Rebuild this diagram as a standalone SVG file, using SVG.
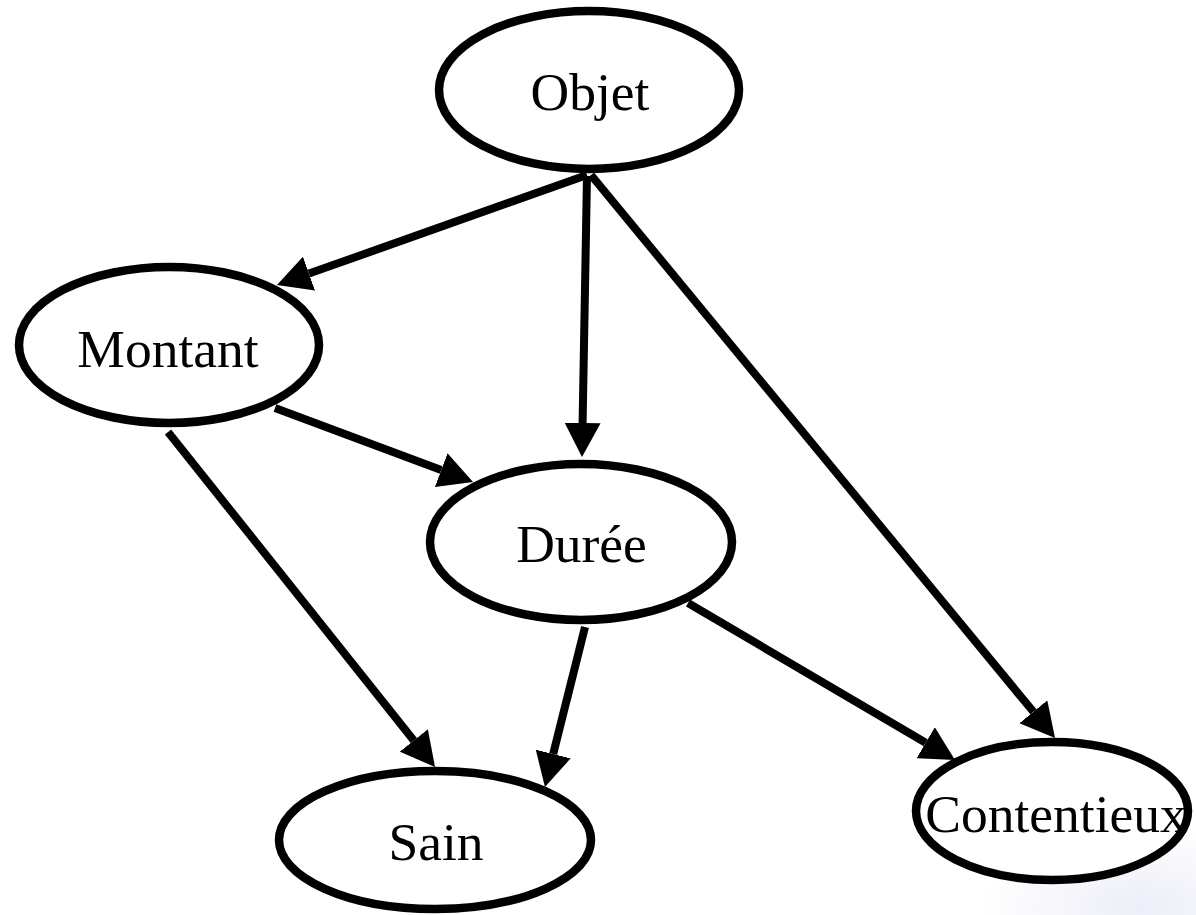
<svg xmlns="http://www.w3.org/2000/svg" width="1196" height="915" viewBox="0 0 1196 915">
  <style>
    .node ellipse { fill: #ffffff; stroke: #000000; stroke-width: 8.5; }
    .node text { font-family: "Liberation Serif", "Times New Roman", serif; font-size: 53.5px; fill: #000000; text-anchor: middle; }
    .edge { stroke: #000000; stroke-width: 8; fill: none; marker-end: url(#arrow); }
  </style>
  <defs>
    <marker id="arrow" viewBox="0 0 34 36" refX="0" refY="18" markerWidth="34" markerHeight="36" markerUnits="userSpaceOnUse" orient="auto">
      <path d="M0,0 L34,18 L0,36 Z" fill="#000000"/>
    </marker>
    <radialGradient id="haze" cx="0.5" cy="0.5" r="0.5">
      <stop offset="0" stop-color="#e6e6f6" stop-opacity="0.7"/>
      <stop offset="1" stop-color="#e6e6f6" stop-opacity="0"/>
    </radialGradient>
  </defs>
  <rect width="1196" height="915" fill="#ffffff"/>
  <!-- faint tint in the lower corner -->
  <ellipse cx="1140" cy="905" rx="160" ry="80" fill="url(#haze)"/>

  <g id="edges">
    <line class="edge" x1="587" y1="175" x2="309" y2="273.6"/>
    <line class="edge" x1="587" y1="176" x2="582.6" y2="423"/>
    <line class="edge" x1="591" y1="175" x2="1033.4" y2="711.8"/>
    <line class="edge" x1="275" y1="408" x2="441.2" y2="470.1"/>
    <line class="edge" x1="168" y1="432" x2="413.8" y2="740.4"/>
    <line class="edge" x1="585" y1="627" x2="553.2" y2="754"/>
    <line class="edge" x1="688" y1="603" x2="925.7" y2="742.8"/>
  </g>

  <g id="node-objet" class="node">
    <ellipse cx="589" cy="90" rx="150" ry="79"/>
    <text x="590" y="110">Objet</text>
  </g>
  <g id="node-montant" class="node">
    <ellipse cx="169" cy="345" rx="150" ry="78"/>
    <text x="168" y="367">Montant</text>
  </g>
  <g id="node-duree" class="node">
    <ellipse cx="581" cy="542" rx="151" ry="78"/>
    <text x="581.5" y="562">Durée</text>
  </g>
  <g id="node-sain" class="node">
    <ellipse cx="435" cy="840" rx="156" ry="69"/>
    <text x="436" y="860">Sain</text>
  </g>
  <g id="node-contentieux" class="node">
    <ellipse cx="1052" cy="811" rx="136" ry="69"/>
    <text x="1056" y="832">Contentieux</text>
  </g>
</svg>
